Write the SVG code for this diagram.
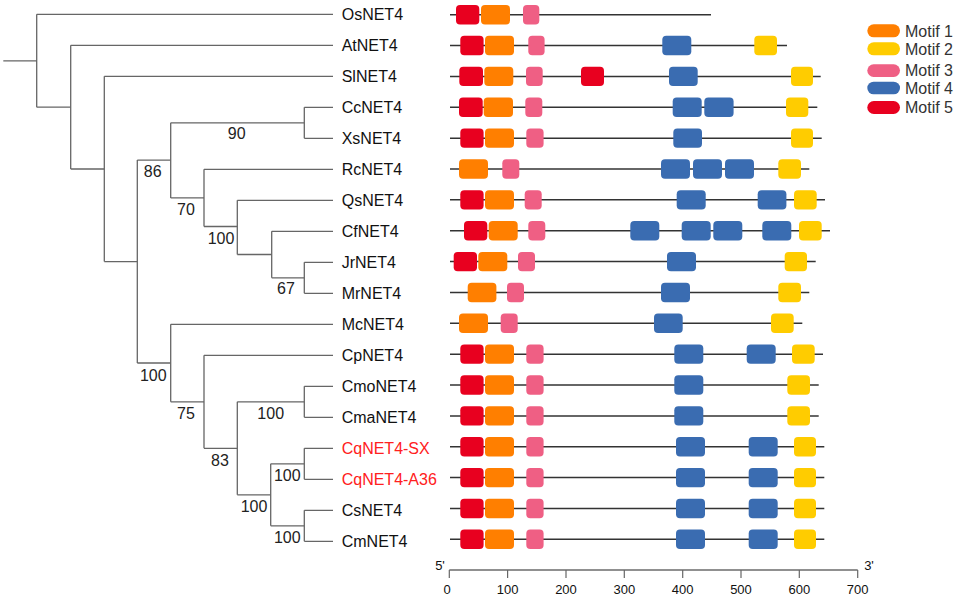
<svg xmlns="http://www.w3.org/2000/svg" width="960" height="600" viewBox="0 0 960 600">
<style>
.lbl{font-family:"Liberation Sans",Arial,sans-serif;font-size:16px;fill:#111}
.red{fill:#ff2020}
.bs{font-family:"Liberation Sans",Arial,sans-serif;font-size:16px;fill:#222;text-anchor:middle}
.ax{font-family:"Liberation Sans",Arial,sans-serif;font-size:13px;fill:#111;text-anchor:middle}
.leg{font-family:"Liberation Sans",Arial,sans-serif;font-size:16px;fill:#333}
.tree{fill:none;stroke:#666;stroke-width:1.3}
.gl{stroke:#333;stroke-width:1.5}
.m1{fill:#ff7f00}
.m2{fill:#ffcc00}
.m3{fill:#ef5f84}
.m4{fill:#3a6cb1}
.m5{fill:#e8001f}
rect.m{height:19.4px;rx:4px}
</style>
<g id="connectors" class="tree">
<path d="M3.3,60.8H36.7M36.7,14.3V107.2M36.7,14.3H333M36.7,107.2H70.7"/>
<path d="M70.7,45.3V169M70.7,45.3H333M70.7,169H104.3"/>
<path d="M104.3,76.3V261.6M104.3,76.3H333M104.3,261.6H137.3"/>
<path d="M137.3,160.1V363M137.3,160.1H170.7M137.3,363H170.7"/>
<path d="M170.7,122.8V197.9M170.7,122.8H304.3M170.7,197.9H204"/>
<path d="M304.3,107.3V138.3M304.3,107.3H333M304.3,138.3H333"/>
<path d="M204,169.3V226.5M204,169.3H333M204,226.5H237.3"/>
<path d="M237.3,200.3V254.5M237.3,200.3H333M237.3,254.5H271.7"/>
<path d="M271.7,231.3V277.8M271.7,231.3H333M271.7,277.8H304.3"/>
<path d="M304.3,262.3V293.3M304.3,262.3H333M304.3,293.3H333"/>
<path d="M170.7,324.3V401.8M170.7,324.3H333M170.7,401.8H204"/>
<path d="M204,355.3V448.3M204,355.3H333M204,448.3H237.3"/>
<path d="M237.3,401.8V494.8M237.3,401.8H304.3M237.3,494.8H270.7"/>
<path d="M304.3,386.3V417.3M304.3,386.3H333M304.3,417.3H333"/>
<path d="M270.7,463.8V525.8M270.7,463.8H304.3M270.7,525.8H304.3"/>
<path d="M304.3,448.3V479.3M304.3,448.3H333M304.3,479.3H333"/>
<path d="M304.3,510.3V541.3M304.3,510.3H333M304.3,541.3H333"/>
</g>
<g id="bootstrap">
<text class="bs" x="236.7" y="139.4">90</text>
<text class="bs" x="152.7" y="177.4">86</text>
<text class="bs" x="186" y="215">70</text>
<text class="bs" x="221" y="244">100</text>
<text class="bs" x="286" y="294.4">67</text>
<text class="bs" x="153.3" y="380.7">100</text>
<text class="bs" x="186" y="419">75</text>
<text class="bs" x="220" y="465.7">83</text>
<text class="bs" x="270.7" y="419">100</text>
<text class="bs" x="254" y="512.4">100</text>
<text class="bs" x="287.3" y="481">100</text>
<text class="bs" x="287.3" y="543">100</text>
</g>
<g id="OsNET4"><text class="lbl" x="341.7" y="20">OsNET4</text>
<g transform="translate(0,14.7)"><line class="gl" x1="450" y1="0" x2="711" y2="0"/>
<rect class="m m5" x="456" y="-9.7" width="23.3"/><rect class="m m1" x="481" y="-9.7" width="29"/><rect class="m m3" x="523" y="-9.7" width="16.3"/></g></g>
<g id="AtNET4"><text class="lbl" x="341.7" y="51">AtNET4</text>
<g transform="translate(0,45.56)"><line class="gl" x1="450" y1="0" x2="787" y2="0"/>
<rect class="m m5" x="460.3" y="-9.7" width="23.3"/><rect class="m m1" x="485" y="-9.7" width="29"/><rect class="m m3" x="528.3" y="-9.7" width="16.3"/><rect class="m m4" x="662.3" y="-9.7" width="29"/><rect class="m m2" x="754.3" y="-9.7" width="22.7"/></g></g>
<g id="SlNET4"><text class="lbl" x="341.7" y="82">SlNET4</text>
<g transform="translate(0,76.42)"><line class="gl" x1="450" y1="0" x2="820.7" y2="0"/>
<rect class="m m5" x="459.3" y="-9.7" width="23.7"/><rect class="m m1" x="484.3" y="-9.7" width="29"/><rect class="m m3" x="526" y="-9.7" width="16.7"/><rect class="m m5" x="581" y="-9.7" width="23"/><rect class="m m4" x="669" y="-9.7" width="28.7"/><rect class="m m2" x="791" y="-9.7" width="22"/></g></g>
<g id="CcNET4"><text class="lbl" x="341.7" y="113">CcNET4</text>
<g transform="translate(0,107.28)"><line class="gl" x1="450" y1="0" x2="817.3" y2="0"/>
<rect class="m m5" x="459" y="-9.7" width="23.7"/><rect class="m m1" x="483.7" y="-9.7" width="29.3"/><rect class="m m3" x="525.3" y="-9.7" width="17"/><rect class="m m4" x="672.7" y="-9.7" width="29"/><rect class="m m4" x="704.3" y="-9.7" width="29.3"/><rect class="m m2" x="786" y="-9.7" width="22.3"/></g></g>
<g id="XsNET4"><text class="lbl" x="341.7" y="144">XsNET4</text>
<g transform="translate(0,138.14)"><line class="gl" x1="450" y1="0" x2="821.7" y2="0"/>
<rect class="m m5" x="460.3" y="-9.7" width="23.3"/><rect class="m m1" x="485" y="-9.7" width="29"/><rect class="m m3" x="526.3" y="-9.7" width="17.3"/><rect class="m m4" x="673.3" y="-9.7" width="28.7"/><rect class="m m2" x="791" y="-9.7" width="22"/></g></g>
<g id="RcNET4"><text class="lbl" x="341.7" y="175">RcNET4</text>
<g transform="translate(0,169)"><line class="gl" x1="450" y1="0" x2="809.3" y2="0"/>
<rect class="m m1" x="459" y="-9.7" width="29"/><rect class="m m3" x="502.3" y="-9.7" width="17"/><rect class="m m4" x="661" y="-9.7" width="29"/><rect class="m m4" x="693" y="-9.7" width="29"/><rect class="m m4" x="725" y="-9.7" width="29"/><rect class="m m2" x="778.3" y="-9.7" width="22.7"/></g></g>
<g id="QsNET4"><text class="lbl" x="341.7" y="206">QsNET4</text>
<g transform="translate(0,199.86)"><line class="gl" x1="450" y1="0" x2="825" y2="0"/>
<rect class="m m5" x="460.3" y="-9.7" width="23.3"/><rect class="m m1" x="485" y="-9.7" width="29"/><rect class="m m3" x="524.7" y="-9.7" width="17"/><rect class="m m4" x="676.7" y="-9.7" width="29"/><rect class="m m4" x="757.7" y="-9.7" width="28.7"/><rect class="m m2" x="794" y="-9.7" width="22.7"/></g></g>
<g id="CfNET4"><text class="lbl" x="341.7" y="237">CfNET4</text>
<g transform="translate(0,230.72)"><line class="gl" x1="450" y1="0" x2="830" y2="0"/>
<rect class="m m5" x="464" y="-9.7" width="23.3"/><rect class="m m1" x="488.7" y="-9.7" width="29"/><rect class="m m3" x="528.3" y="-9.7" width="17"/><rect class="m m4" x="630.3" y="-9.7" width="29"/><rect class="m m4" x="681.7" y="-9.7" width="29"/><rect class="m m4" x="713.3" y="-9.7" width="29"/><rect class="m m4" x="762.3" y="-9.7" width="29"/><rect class="m m2" x="799" y="-9.7" width="22.7"/></g></g>
<g id="JrNET4"><text class="lbl" x="341.7" y="268">JrNET4</text>
<g transform="translate(0,261.58)"><line class="gl" x1="450" y1="0" x2="815.7" y2="0"/>
<rect class="m m5" x="453.7" y="-9.7" width="23.3"/><rect class="m m1" x="478.3" y="-9.7" width="29"/><rect class="m m3" x="518" y="-9.7" width="17"/><rect class="m m4" x="667" y="-9.7" width="29"/><rect class="m m2" x="784.7" y="-9.7" width="22.3"/></g></g>
<g id="MrNET4"><text class="lbl" x="341.7" y="299">MrNET4</text>
<g transform="translate(0,292.44)"><line class="gl" x1="450" y1="0" x2="809.3" y2="0"/>
<rect class="m m1" x="467.7" y="-9.7" width="28.7"/><rect class="m m3" x="507" y="-9.7" width="17"/><rect class="m m4" x="661" y="-9.7" width="29"/><rect class="m m2" x="778.3" y="-9.7" width="22.7"/></g></g>
<g id="McNET4"><text class="lbl" x="341.7" y="330">McNET4</text>
<g transform="translate(0,323.3)"><line class="gl" x1="450" y1="0" x2="802.3" y2="0"/>
<rect class="m m1" x="459" y="-9.7" width="29"/><rect class="m m3" x="500.7" y="-9.7" width="17"/><rect class="m m4" x="654" y="-9.7" width="28.7"/><rect class="m m2" x="771" y="-9.7" width="22.7"/></g></g>
<g id="CpNET4"><text class="lbl" x="341.7" y="361">CpNET4</text>
<g transform="translate(0,354.16)"><line class="gl" x1="450" y1="0" x2="823" y2="0"/>
<rect class="m m5" x="460.3" y="-9.7" width="23.3"/><rect class="m m1" x="485" y="-9.7" width="29"/><rect class="m m3" x="526.3" y="-9.7" width="17.3"/><rect class="m m4" x="674.3" y="-9.7" width="29"/><rect class="m m4" x="746.7" y="-9.7" width="29"/><rect class="m m2" x="792" y="-9.7" width="22.7"/></g></g>
<g id="CmoNET4"><text class="lbl" x="341.7" y="392">CmoNET4</text>
<g transform="translate(0,385.02)"><line class="gl" x1="450" y1="0" x2="818.7" y2="0"/>
<rect class="m m5" x="460.3" y="-9.7" width="23.3"/><rect class="m m1" x="485" y="-9.7" width="29"/><rect class="m m3" x="526.3" y="-9.7" width="17.3"/><rect class="m m4" x="674.3" y="-9.7" width="29"/><rect class="m m2" x="787.3" y="-9.7" width="22.7"/></g></g>
<g id="CmaNET4"><text class="lbl" x="341.7" y="423">CmaNET4</text>
<g transform="translate(0,415.88)"><line class="gl" x1="450" y1="0" x2="818.7" y2="0"/>
<rect class="m m5" x="460.3" y="-9.7" width="23.3"/><rect class="m m1" x="485" y="-9.7" width="29"/><rect class="m m3" x="526.3" y="-9.7" width="17.3"/><rect class="m m4" x="674.3" y="-9.7" width="29"/><rect class="m m2" x="787.3" y="-9.7" width="22.7"/></g></g>
<g id="CqNET4-SX"><text class="lbl red" x="341.7" y="454">CqNET4-SX</text>
<g transform="translate(0,446.74)"><line class="gl" x1="450" y1="0" x2="824.3" y2="0"/>
<rect class="m m5" x="460.3" y="-9.7" width="23.3"/><rect class="m m1" x="485" y="-9.7" width="29"/><rect class="m m3" x="526.3" y="-9.7" width="17.3"/><rect class="m m4" x="676" y="-9.7" width="29"/><rect class="m m4" x="748.7" y="-9.7" width="29"/><rect class="m m2" x="794" y="-9.7" width="22"/></g></g>
<g id="CqNET4-A36"><text class="lbl red" x="341.7" y="485">CqNET4-A36</text>
<g transform="translate(0,477.6)"><line class="gl" x1="450" y1="0" x2="824.3" y2="0"/>
<rect class="m m5" x="460.3" y="-9.7" width="23.3"/><rect class="m m1" x="485" y="-9.7" width="29"/><rect class="m m3" x="526.3" y="-9.7" width="17.3"/><rect class="m m4" x="676" y="-9.7" width="29"/><rect class="m m4" x="748.7" y="-9.7" width="29"/><rect class="m m2" x="794" y="-9.7" width="22"/></g></g>
<g id="CsNET4"><text class="lbl" x="341.7" y="516">CsNET4</text>
<g transform="translate(0,508.46)"><line class="gl" x1="450" y1="0" x2="824.3" y2="0"/>
<rect class="m m5" x="460.3" y="-9.7" width="23.3"/><rect class="m m1" x="485" y="-9.7" width="29"/><rect class="m m3" x="526.3" y="-9.7" width="17.3"/><rect class="m m4" x="676" y="-9.7" width="29"/><rect class="m m4" x="748.7" y="-9.7" width="29"/><rect class="m m2" x="794" y="-9.7" width="22"/></g></g>
<g id="CmNET4"><text class="lbl" x="341.7" y="547">CmNET4</text>
<g transform="translate(0,539.32)"><line class="gl" x1="450" y1="0" x2="824.3" y2="0"/>
<rect class="m m5" x="460.3" y="-9.7" width="23.3"/><rect class="m m1" x="485" y="-9.7" width="29"/><rect class="m m3" x="526.3" y="-9.7" width="17.3"/><rect class="m m4" x="676" y="-9.7" width="29"/><rect class="m m4" x="748.7" y="-9.7" width="29"/><rect class="m m2" x="794" y="-9.7" width="22"/></g></g>
<g id="legend">
<rect class="m1" x="867.3" y="24.3" width="32.7" height="13" rx="6.5"/><text class="leg" x="905" y="36.5">Motif 1</text>
<rect class="m2" x="867.3" y="42.3" width="32.7" height="13" rx="6.5"/><text class="leg" x="905" y="54.5">Motif 2</text>
<rect class="m3" x="867.3" y="64.3" width="32.7" height="12.6" rx="6.3"/><text class="leg" x="905" y="75.8">Motif 3</text>
<rect class="m4" x="867.3" y="81.7" width="32.7" height="12.6" rx="6.3"/><text class="leg" x="905" y="93.5">Motif 4</text>
<rect class="m5" x="867.3" y="101" width="32.7" height="13" rx="6.5"/><text class="leg" x="905" y="113">Motif 5</text>
</g>
<g id="axis">
<line x1="449.3" y1="570" x2="857.7" y2="570" stroke="#222" stroke-width="1.2"/>
<g stroke="#666" stroke-width="1.2">
<line x1="449.3" y1="570" x2="449.3" y2="578"/><line x1="507.6" y1="570" x2="507.6" y2="578"/><line x1="566" y1="570" x2="566" y2="578"/><line x1="624.3" y1="570" x2="624.3" y2="578"/><line x1="682.7" y1="570" x2="682.7" y2="578"/><line x1="741" y1="570" x2="741" y2="578"/><line x1="799.3" y1="570" x2="799.3" y2="578"/><line x1="857.7" y1="570" x2="857.7" y2="578"/>
</g>
<text class="ax" x="447" y="594">0</text><text class="ax" x="507.6" y="594">100</text><text class="ax" x="566" y="594">200</text><text class="ax" x="624.3" y="594">300</text><text class="ax" x="682.7" y="594">400</text><text class="ax" x="741" y="594">500</text><text class="ax" x="799.3" y="594">600</text><text class="ax" x="857.7" y="594">700</text>
<text class="ax" x="440" y="570">5'</text><text class="ax" x="869" y="570">3'</text>
</g>
</svg>
